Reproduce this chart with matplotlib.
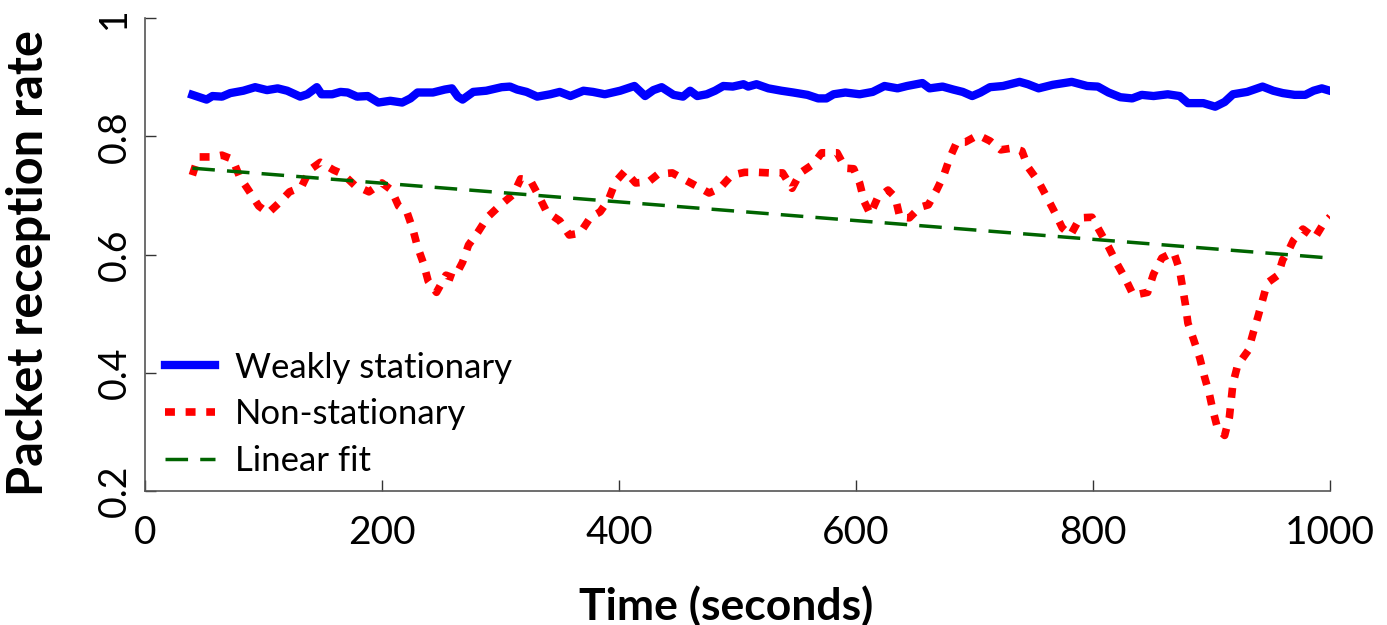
import numpy as np
from matplotlib import pyplot as plt

# weakly stationary link (time in s, packet reception rate)
t_weak = [40, 52, 57, 65, 72, 83, 93, 103, 112, 120, 131, 137, 145, 149, 158, 165, 171, 179,
          188, 197, 207, 217, 224, 230, 243, 253, 259, 264, 268, 277, 288, 301, 308, 314, 322,
          331, 342, 350, 359, 370, 378, 388, 401, 413, 422, 429, 436, 446, 454, 460, 466, 474,
          481, 488, 496, 505, 509, 516, 526, 537, 547, 559, 568, 575, 581, 591, 603, 614, 624,
          635, 643, 656, 662, 673, 682, 690, 698, 705, 713, 724, 738, 745, 754, 766, 782, 795,
          804, 813, 823, 833, 841, 851, 863, 873, 880, 893, 903, 911, 918, 930, 943, 952, 960,
          970, 979, 986, 993, 998]
prr_weak = [0.870, 0.862, 0.868, 0.867, 0.873, 0.877, 0.883, 0.878, 0.881, 0.877, 0.867, 0.871,
            0.883, 0.871, 0.871, 0.875, 0.874, 0.867, 0.868, 0.857, 0.860, 0.857, 0.864, 0.874,
            0.874, 0.879, 0.881, 0.867, 0.862, 0.875, 0.877, 0.883, 0.884, 0.879, 0.875, 0.867,
            0.871, 0.875, 0.868, 0.877, 0.875, 0.871, 0.877, 0.885, 0.868, 0.878, 0.883, 0.870,
            0.867, 0.877, 0.868, 0.871, 0.877, 0.885, 0.884, 0.888, 0.884, 0.888, 0.881, 0.877,
            0.874, 0.870, 0.864, 0.864, 0.871, 0.874, 0.871, 0.875, 0.885, 0.881, 0.885, 0.890,
            0.881, 0.884, 0.879, 0.875, 0.868, 0.874, 0.883, 0.885, 0.892, 0.888, 0.881, 0.887,
            0.892, 0.885, 0.884, 0.874, 0.866, 0.864, 0.870, 0.868, 0.871, 0.868, 0.856, 0.856,
            0.850, 0.858, 0.871, 0.875, 0.884, 0.877, 0.873, 0.870, 0.870, 0.877, 0.881, 0.878]

# non-stationary link
t_non = [40, 45, 57, 65, 74, 80, 88, 96, 104, 113, 122, 132, 139, 148, 159, 167, 177, 189, 200,
         208, 214, 221, 226, 230, 235, 239, 246, 254, 261, 268, 273, 281, 289, 299, 311, 317,
         325, 332, 339, 350, 358, 367, 376, 384, 391, 397, 405, 414, 425, 433, 445, 454, 467,
         476, 485, 495, 506, 517, 527, 538, 546, 553, 564, 571, 584, 591, 598, 603, 607, 612,
         618, 627, 633, 637, 645, 654, 661, 668, 674, 679, 685, 692, 703, 713, 722, 732, 740,
         745, 754, 761, 768, 774, 781, 789, 799, 806, 813, 820, 827, 834, 846, 851, 858, 868,
         873, 878, 880, 885, 890, 894, 898, 901, 905, 911, 915, 918, 922, 931, 935, 939, 943,
         947, 956, 960, 965, 969, 977, 987, 994, 1000]
prr_non = [0.734, 0.765, 0.765, 0.768, 0.761, 0.731, 0.707, 0.682, 0.670, 0.687, 0.706, 0.714,
           0.743, 0.756, 0.743, 0.736, 0.717, 0.706, 0.721, 0.709, 0.682, 0.672, 0.643, 0.613,
           0.585, 0.555, 0.536, 0.565, 0.560, 0.587, 0.616, 0.638, 0.663, 0.682, 0.702, 0.728,
           0.726, 0.700, 0.672, 0.657, 0.633, 0.636, 0.663, 0.672, 0.692, 0.723, 0.741, 0.721,
           0.723, 0.736, 0.738, 0.728, 0.714, 0.704, 0.712, 0.734, 0.739, 0.739, 0.738, 0.738,
           0.712, 0.738, 0.753, 0.772, 0.772, 0.746, 0.745, 0.721, 0.689, 0.668, 0.695, 0.709,
           0.697, 0.663, 0.662, 0.680, 0.684, 0.709, 0.734, 0.763, 0.790, 0.790, 0.802, 0.792,
           0.777, 0.780, 0.775, 0.748, 0.723, 0.697, 0.670, 0.645, 0.633, 0.662, 0.663, 0.638,
           0.613, 0.585, 0.560, 0.531, 0.536, 0.567, 0.594, 0.604, 0.574, 0.514, 0.484, 0.455,
           0.425, 0.393, 0.365, 0.337, 0.306, 0.294, 0.325, 0.382, 0.413, 0.438, 0.467, 0.494,
           0.523, 0.552, 0.565, 0.591, 0.607, 0.624, 0.643, 0.628, 0.651, 0.664]

# linear fit of the non-stationary link
t_fit = [40, 1000]
prr_fit = [0.746, 0.594]

x_ticks = [0, 200, 400, 600, 800, 1000]
y_ticks = [0.2, 0.4, 0.6, 0.8, 1.0]
y_tick_labels = ['0.2', '0.4', '0.6', '0.8', '1']

plt.rcParams['font.family'] = ['Lato', 'DejaVu Sans']

fig = plt.figure(figsize=(13.87, 6.25), dpi=100)
ax = fig.add_axes([0.1045, 0.2144, 0.8545, 0.7568])

ax.plot(t_weak, prr_weak, c='#0000ff', lw=6, label='Weakly stationary', solid_joinstyle='round')
ax.plot(t_non, prr_non, c='#ff0000', lw=5.5, linestyle=(0, (1.3, 1.4)), label='Non-stationary')
ax.plot(t_fit, prr_fit, c='#006400', lw=2.5, linestyle=(0, (6.5, 3.5)), label='Linear fit')

ax.set_xlim(0, 1000)
ax.set_ylim(0.2, 1.0)
ax.set_xticks(x_ticks)
ax.set_xticklabels([str(v) for v in x_ticks])
ax.set_yticks(y_ticks)
ax.set_yticklabels(y_tick_labels, rotation=90, va='center')

for side in ['top', 'right']:
    ax.spines[side].set_visible(False)
for side in ['left', 'bottom']:
    ax.spines[side].set_color('#555555')
    ax.spines[side].set_linewidth(1.2)
ax.tick_params(direction='in', length=8, width=1.0, color='#333333')
ax.tick_params(axis='x', pad=17, labelsize=28)
ax.tick_params(axis='y', pad=9, labelsize=27)

ax.set_xlabel('Time (seconds)', fontsize=32, fontweight='bold')
ax.set_ylabel('Packet reception rate', fontsize=35, fontweight='bold')
ax.xaxis.set_label_coords(0.49, -0.20)
ax.yaxis.set_label_coords(-0.079, 0.482)

ax.legend(loc='lower left', bbox_to_anchor=(0.017, 0.03), frameon=False, fontsize=25,
          handlelength=1.45, handletextpad=0.55, labelspacing=0.42, borderpad=0, borderaxespad=0)

fig.savefig('out.png', dpi=100)
